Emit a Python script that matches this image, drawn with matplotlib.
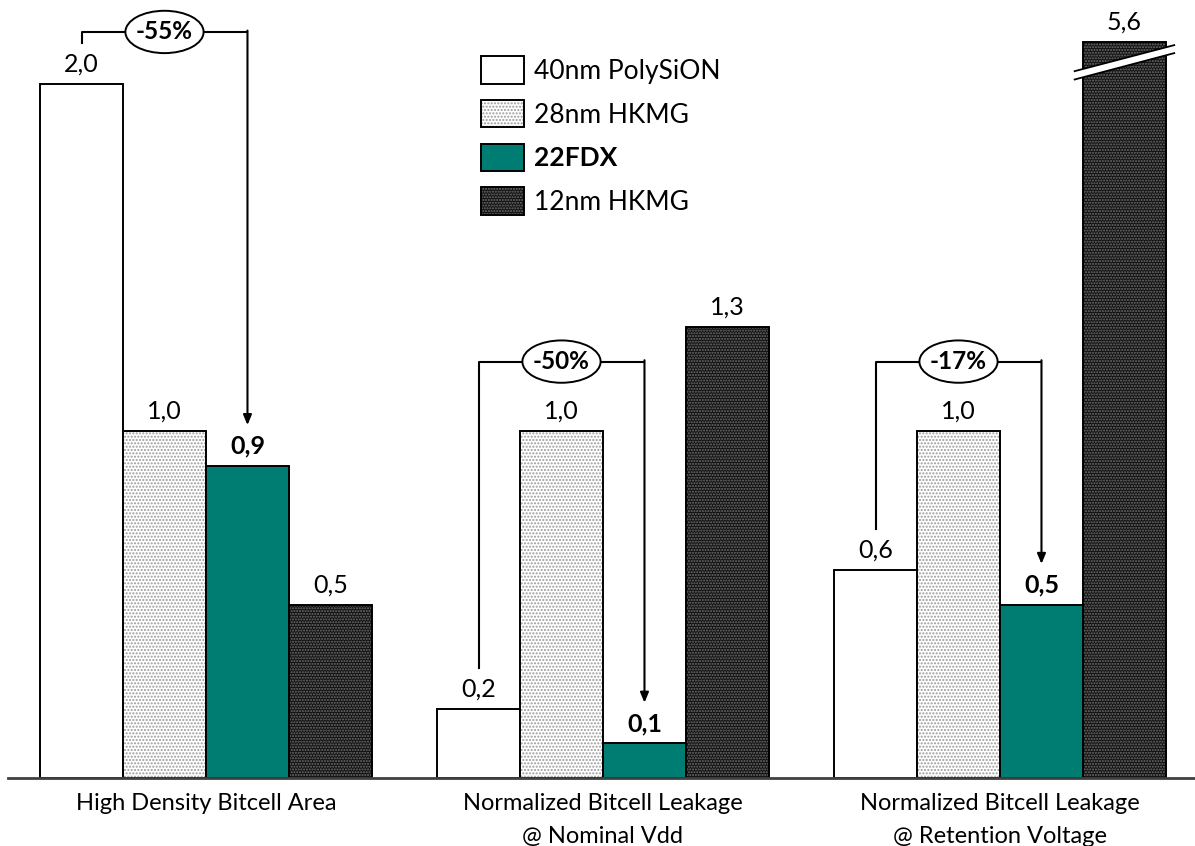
import matplotlib.pyplot as plt
from matplotlib.patches import Patch, Polygon, Ellipse
from matplotlib.legend_handler import HandlerTuple

plt.rcParams['font.family'] = ['Lato', 'DejaVu Sans']

# data
categories = ['High Density Bitcell Area',
              'Normalized Bitcell Leakage\n@ Nominal Vdd',
              'Normalized Bitcell Leakage\n@ Retention Voltage']
series = ['40nm PolySiON', '28nm HKMG', '22FDX', '12nm HKMG']
values = [
    [2.0, 0.2, 0.6],   # 40nm PolySiON
    [1.0, 1.0, 1.0],   # 28nm HKMG
    [0.9, 0.1, 0.5],   # 22FDX
    [0.5, 1.3, 5.6],   # 12nm HKMG
]
changes = ['-55%', '-50%', '-17%']
bracket_top = [2.15, 1.20, 1.20]

# styles
face = ['white', 'white', '#007d73', '#111111']
hatch = [None, '.....', None, '......']
hatch_col = ['white', '#9a9a9a', '#007d73', '#707070']
y_cap = 2.12        # the 5,6 bar is cut here
w = 0.209
lab_gap = 0.117

fig = plt.figure(figsize=(11.95, 8.46), dpi=100)
ax = fig.add_axes([8 / 1195, 68 / 846, 1 - 8 / 1195, 778 / 846])

handles = []
for i, name in enumerate(series):
    xs = [g + (i - 1.5) * w for g in range(len(categories))]
    hs = [min(v, y_cap) for v in values[i]]
    ax.bar(xs, hs, w, color=face[i], edgecolor=hatch_col[i], hatch=hatch[i], linewidth=0)
    ax.bar(xs, hs, w, fill=False, edgecolor='black', linewidth=1.4)
    for x, h, v in zip(xs, hs, values[i]):
        ax.annotate(f'{v:.1f}'.replace('.', ','), (x, h), xytext=(0, 6), textcoords='offset points',
                    ha='center', va='bottom', fontsize=18,
                    fontweight='bold' if i == 2 else 'normal')
    handles.append((Patch(facecolor=face[i], edgecolor=hatch_col[i], hatch=hatch[i], linewidth=0),
                    Patch(fill=False, edgecolor='black', linewidth=1.4)))

# break mark on the 5,6 bar
xb = 2 + 1.5 * w
x0, x1 = xb - 0.6 * w, xb + 0.6 * w
ax.add_patch(Polygon([(x0, 2.013), (x1, 2.089), (x1, 2.112), (x0, 2.037)],
                     closed=True, facecolor='white', edgecolor='none', zorder=5))
ax.plot([x0, x1], [2.013, 2.089], color='black', lw=1.3, zorder=6)
ax.plot([x0, x1], [2.037, 2.112], color='black', lw=1.3, zorder=6)

# reduction brackets 40nm -> 22FDX
for g in range(len(categories)):
    xl = g - 1.5 * w
    xr = g + 0.5 * w
    top = bracket_top[g]
    ax.plot([xl, xl, xr], [values[0][g] + lab_gap, top, top], color='black', lw=1.5)
    ax.annotate('', xy=(xr, values[2][g] + lab_gap), xytext=(xr, top + 0.004),
                arrowprops=dict(arrowstyle='-|>,head_length=0.6,head_width=0.25',
                                color='black', lw=1.5, shrinkA=0, shrinkB=0))
    ax.add_patch(Ellipse(((xl + xr) / 2, top), 0.197, 0.122, facecolor='white',
                         edgecolor='black', lw=1.4, zorder=4))
    ax.text((xl + xr) / 2, top, changes[g], ha='center', va='center', fontsize=17.5,
            fontweight='bold', zorder=5)

ax.set_xlim(-0.4987, 2.4912)
ax.set_ylim(0, 778 / 347)
ax.set_yticks([])
ax.set_xticks(range(len(categories)))
ax.set_xticklabels(categories, fontsize=17, linespacing=1.68)
ax.tick_params(axis='x', length=0, pad=11)
for s in ['top', 'left', 'right']:
    ax.spines[s].set_visible(False)
ax.spines['bottom'].set_color('#404040')
ax.spines['bottom'].set_linewidth(2)

leg = ax.legend(handles, series, handler_map={tuple: HandlerTuple(ndivide=1, pad=0)},
                loc='upper left', bbox_to_anchor=(463 / 1195, 1 - 38 / 846),
                bbox_transform=fig.transFigure, frameon=False, fontsize=19,
                handlelength=1.6, handleheight=1.2, labelspacing=0.62,
                handletextpad=0.4, borderpad=0.2)
leg.get_texts()[2].set_fontweight('bold')

fig.savefig('out.png', dpi=100)
